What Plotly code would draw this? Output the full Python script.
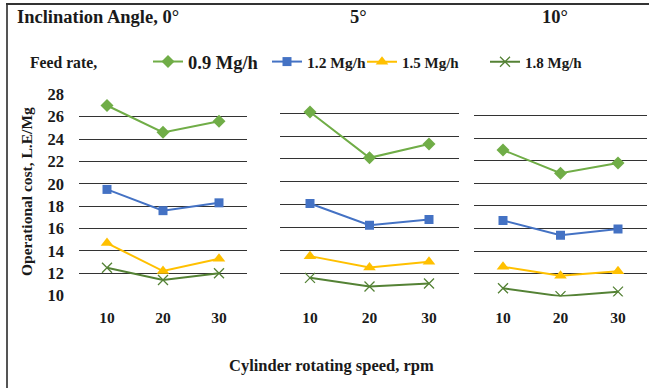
import plotly.graph_objects as go

# ---- data ----
speeds = [10, 20, 30]
angle_labels = ["Inclination Angle, 0°", "5°", "10°"]
feed_labels = ["0.9 Mg/h", "1.2 Mg/h", "1.5 Mg/h", "1.8 Mg/h"]
# operational cost (L.E/Mg) per feed rate, per inclination angle (0°, 5°, 10°)
cost_09 = [[27.0, 24.6, 25.6], [26.1, 22.1, 23.3], [22.95, 20.9, 21.8]]
cost_12 = [[19.5, 17.6, 18.3], [18.1, 16.2, 16.7], [16.7, 15.4, 15.95]]
cost_15 = [[14.7, 12.2, 13.3], [13.5, 12.5, 13.0], [12.6, 11.8, 12.2]]
cost_18 = [[12.5, 11.4, 12.0], [11.6, 10.85, 11.1], [10.7, 10.0, 10.4]]
y_ticks = [10, 12, 14, 16, 18, 20, 22, 24, 26, 28]

# ---- styles ----
W, H = 649, 388
FONT = "Liberation Serif"
TXT = "#1a1a1a"
colors = ["#70AD47", "#4472C4", "#FFC000", "#548235"]
symbols = ["diamond", "square", "triangle-up", "x-thin"]
msizes = [10, 9, 11, 10]
series = [cost_09, cost_12, cost_15, cost_18]

def px_x(p):
    return p / W

def px_y(p):
    return (H - p) / H

# panel pixel geometry: (left, right, top, bottom)
panels = [(79, 247, 94, 296), (280.25, 458.75, 90, 296.5), (474.25, 646.75, 92.7, 296.5)]

fig = go.Figure()
for si, (vals, col, sym, ms, name) in enumerate(zip(series, colors, symbols, msizes, feed_labels)):
    for pi in range(3):
        axn = "" if pi == 0 else str(pi + 1)
        marker = dict(symbol=sym, size=ms, color=col)
        if sym == "x-thin":
            marker["line"] = dict(width=1.3, color=col)
        fig.add_trace(go.Scatter(
            x=speeds, y=vals[pi], mode="lines+markers", name=name,
            line=dict(color=col, width=2), marker=marker,
            xaxis="x" + axn, yaxis="y" + axn,
            showlegend=(pi == 0),
            legend="legend" if si == 0 else "legend%d" % (si + 1),
        ))

layout = dict(
    width=W, height=H, margin=dict(l=0, r=0, t=0, b=0, autoexpand=False),
    paper_bgcolor="white", plot_bgcolor="white",
    font=dict(family=FONT, color=TXT),
)
for pi, (l, r, t, b) in enumerate(panels):
    axn = "" if pi == 0 else str(pi + 1)
    layout["xaxis" + axn] = dict(
        domain=[px_x(l), px_x(r)], range=[5, 35], tickvals=speeds,
        showgrid=False, zeroline=False, showline=False, automargin=False,
        tickfont=dict(family=FONT, size=15.5, weight="bold", color=TXT),
        ticklabelstandoff=10, anchor="y" + axn,
    )
    layout["yaxis" + axn] = dict(
        domain=[px_y(b), px_y(t)], range=[9.97, 28.03], tickvals=y_ticks,
        showgrid=True, gridcolor="#333333", gridwidth=1.3, automargin=False,
        zeroline=False, showline=False, showticklabels=(pi == 0),
        tickfont=dict(family=FONT, size=16.5, weight="bold", color=TXT),
        ticklabelstandoff=14, anchor="x" + axn,
    )

# legends, one per feed rate
leg_pos = [153, 272, 367, 490]
leg_size = [18.5, 15.5, 15, 15]
for i, (p, fs) in enumerate(zip(leg_pos, leg_size)):
    key = "legend" if i == 0 else "legend%d" % (i + 1)
    layout[key] = dict(
        x=px_x(p - 5), y=px_y(62), xanchor="left", yanchor="middle",
        orientation="h", bgcolor="rgba(0,0,0,0)", borderwidth=0,
        font=dict(family=FONT, size=fs, weight="bold", color=TXT),
        itemwidth=30, tracegroupgap=0,
    )

ann = []
title_pos = [(15, "left"), (358, "center"), (555, "center")]
for txt, (xp, xa) in zip(angle_labels, title_pos):
    ann.append(dict(text="<b>%s</b>" % txt, x=px_x(xp), y=px_y(17), xref="paper", yref="paper",
                    xanchor=xa, yanchor="middle", showarrow=False,
                    font=dict(family=FONT, size=18.5, color=TXT)))
ann.append(dict(text="<b>Feed rate,</b>", x=px_x(28), y=px_y(63), xref="paper", yref="paper",
                xanchor="left", yanchor="middle", showarrow=False,
                font=dict(family=FONT, size=15.7, color=TXT)))
ann.append(dict(text="<b>Operational cost, L.E/Mg</b>", x=px_x(26), y=px_y(192), xref="paper", yref="paper",
                xanchor="center", yanchor="middle", textangle=-90, showarrow=False,
                font=dict(family=FONT, size=15.5, color=TXT)))
ann.append(dict(text="<b>Cylinder rotating speed, rpm</b>", x=px_x(331), y=px_y(365), xref="paper", yref="paper",
                xanchor="center", yanchor="middle", showarrow=False,
                font=dict(family=FONT, size=16.5, color=TXT)))
layout["annotations"] = ann
layout["shapes"] = [
    dict(type="line", xref="paper", yref="paper", x0=px_x(7), x1=px_x(7), y0=px_y(4), y1=0,
         line=dict(color="#555555", width=2)),
    dict(type="line", xref="paper", yref="paper", x0=px_x(6), x1=1, y0=px_y(4), y1=px_y(4),
         line=dict(color="#333333", width=2)),
]
fig.update_layout(**layout)
fig.write_html("out.html")
